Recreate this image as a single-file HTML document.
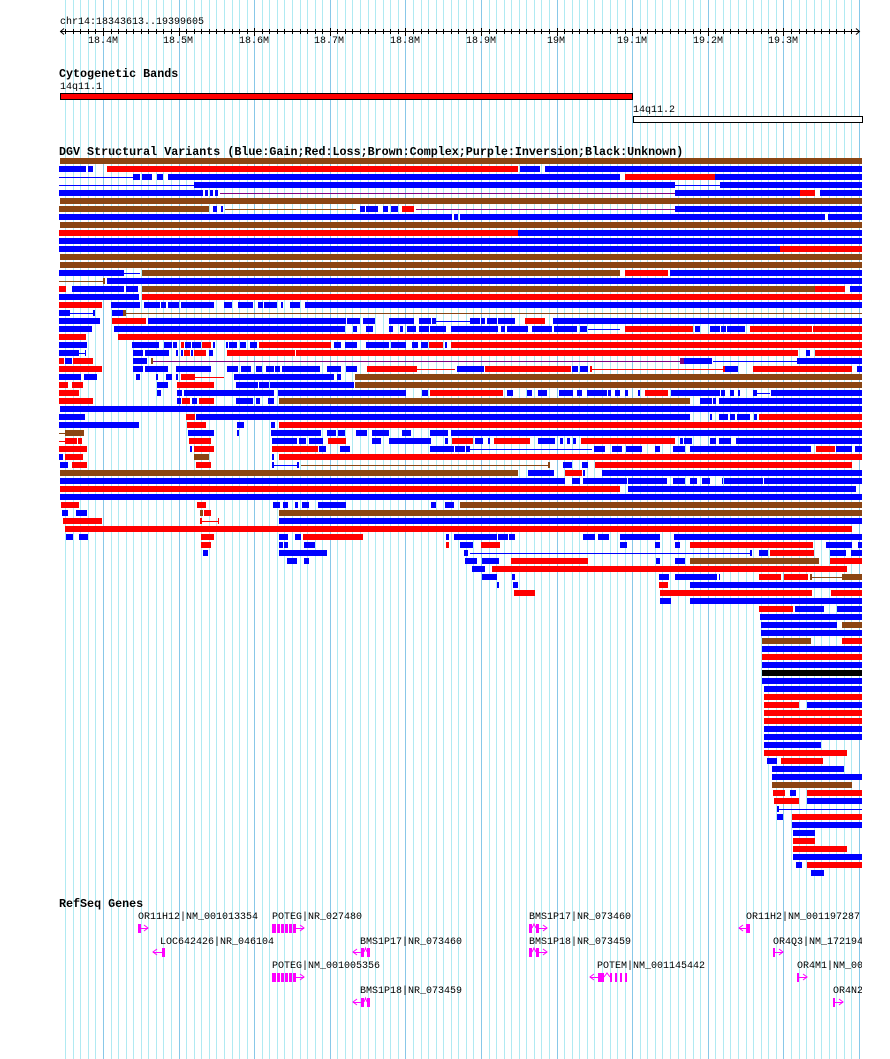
<!DOCTYPE html>
<html><head><meta charset="utf-8">
<style>
html,body{margin:0;padding:0;background:#fff;}
#c{position:relative;width:890px;height:1059px;overflow:hidden;background:#fff;}
.t{position:absolute;font-family:"Liberation Mono",monospace;font-size:10px;line-height:12px;color:#000;white-space:pre;margin-top:2px;}
.h{position:absolute;font-family:"Liberation Mono",monospace;font-size:11.7px;line-height:13px;font-weight:bold;color:#000;white-space:pre;margin-top:1px;}
svg{position:absolute;left:0;top:0;}
</style></head><body>
<div id="c">
<svg id="g" width="890" height="1059" xmlns="http://www.w3.org/2000/svg"></svg>
<div class="t" style="left:60px;top:15px;">chr14:18343613..19399605</div>
<div class="t" style="left:88px;top:34px;">18.4M</div>
<div class="t" style="left:163px;top:34px;">18.5M</div>
<div class="t" style="left:239px;top:34px;">18.6M</div>
<div class="t" style="left:314px;top:34px;">18.7M</div>
<div class="t" style="left:390px;top:34px;">18.8M</div>
<div class="t" style="left:466px;top:34px;">18.9M</div>
<div class="t" style="left:547px;top:34px;">19M</div>
<div class="t" style="left:617px;top:34px;">19.1M</div>
<div class="t" style="left:693px;top:34px;">19.2M</div>
<div class="t" style="left:768px;top:34px;">19.3M</div>
<div class="h" style="left:59px;top:67px;">Cytogenetic Bands</div>
<div class="t" style="left:60px;top:80px;">14q11.1</div>
<div class="t" style="left:633px;top:103px;">14q11.2</div>
<div class="h" style="left:59px;top:145px;">DGV Structural Variants (Blue:Gain;Red:Loss;Brown:Complex;Purple:Inversion;Black:Unknown)</div>
<div class="h" style="left:59px;top:897px;">RefSeq Genes</div>
<div style="position:absolute;left:0;top:0;width:862px;height:1059px;overflow:hidden;">
<div class="t" style="left:138px;top:910px;">OR11H12|NM_001013354</div>
<div class="t" style="left:272px;top:910px;">POTEG|NR_027480</div>
<div class="t" style="left:529px;top:910px;">BMS1P17|NR_073460</div>
<div class="t" style="left:746px;top:910px;">OR11H2|NM_001197287</div>
<div class="t" style="left:160px;top:935px;">LOC642426|NR_046104</div>
<div class="t" style="left:360px;top:935px;">BMS1P17|NR_073460</div>
<div class="t" style="left:529px;top:935px;">BMS1P18|NR_073459</div>
<div class="t" style="left:773px;top:935px;">OR4Q3|NM_172194</div>
<div class="t" style="left:272px;top:959px;">POTEG|NM_001005356</div>
<div class="t" style="left:597px;top:959px;">POTEM|NM_001145442</div>
<div class="t" style="left:797px;top:959px;">OR4M1|NM_001005</div>
<div class="t" style="left:360px;top:984px;">BMS1P18|NR_073459</div>
<div class="t" style="left:833px;top:984px;">OR4N2|NM_0</div>
</div>
</div>
<script>
(function(){
var g=document.getElementById("g"),out=[];
function R(x,y,w,h,c,extra){out.push('<rect x="'+x+'" y="'+y+'" width="'+w+'" height="'+h+'" fill="'+c+'"'+(extra||'')+'/>');}
function L(x1,y1,x2,y2,c){out.push('<line x1="'+x1+'" y1="'+y1+'" x2="'+x2+'" y2="'+y2+'" stroke="'+c+'" stroke-width="1"/>');}
for(var k=-6;k<=100;k++){var x=Math.round(103+k*7.56);if(x<60||x>862)continue;
 var major=(k%10===0);R(x,0,1,1059,major?"#88c8e8":"#b0eaf2");}
L(60,31.5,860,31.5,"#000");
out.push('<polyline points="64,28.5 60.5,31.5 64,34.5" fill="none" stroke="#000"/>');
out.push('<polyline points="856,28.5 859.5,31.5 856,34.5" fill="none" stroke="#000"/>');
for(var k=-5;k<=100;k++){var x=Math.round(103+k*7.56)+0.5;if(x<62||x>858)continue;
 if(k%10===0)L(x,28,x,36,"#000");else L(x,29,x,34,"#000");}
R(60.5,93.5,572,6,"#ff0000",' stroke="#000" stroke-width="1"');
R(633.5,116.5,229,6,"#fff",' stroke="#000" stroke-width="1"');
var C={b:"#0000ff",r:"#ff0000",n:"#8b4513",k:"#000000",p:"#800080"};
var rows=[
"n60-862",
"b59-86 b88-93 r107-518 b520-540 b545-862",
"lb59-133 b133-140 b142-152 b157-163 b168-620 r625-715 b715-862",
"lb59-194 b194-675 lb675-720 b720-862",
"b59-203 b205-208 b210-213 b215-218 lp220-675 b675-800 r800-815 b820-862",
"n60-862",
"n59-209 b213-217 b221-223 ln225-356 b360-365 b366-378 b383-388 b391-398 r402-414 lp416-675 b675-862",
"b59-452 b454-458 b460-825 b828-862",
"n60-862",
"r59-518 b518-862",
"b59-862",
"b59-780 r780-862",
"n60-862",
"n60-862",
"b59-124 lb124-140 n142-620 r625-668 b670-862",
"ln59-103 n103-105 b107-862",
"r59-66 b72-124 b126-138 n142-815 r815-845 b850-862",
"b59-139 r142-862",
"r59-102 b111-140 b144-160 b161-166 b168-179 b181-214 b224-232 b238-253 b258-263 b264-277 b281-283 b290-300 b305-862",
"b59-70 lb70-93 b93-95 b112-123 n123-126 ln126-862",
"b59-100 r112-146 b148-346 b347-360 b363-375 b389-414 b419-431 b432-436 lb436-470 b470-480 b481-485 b487-497 b498-515 r525-545 b553-862",
"b59-92 b114-345 b353-357 b366-373 b389-393 b400-403 b407-416 b419-429 b430-446 b451-498 b501-505 b507-528 b532-552 b554-577 b580-587 lb588-620 r625-693 b695-700 b710-720 b721-726 b727-745 r750-812 r813-862",
"r59-86 r118-862",
"b59-87 b132-159 b164-172 b173-177 r181-184 b185-191 b192-201 r202-211 b213-215 b226-228 b229-237 b240-246 b250-257 r259-331 b334-341 b345-357 b366-389 b391-406 b412-418 b421-428 r429-443 b445-447 r451-862",
"b59-79 lb79-85 b85-86 b133-143 b145-169 b176-178 b181-183 r184-190 b191-193 r194-206 b209-213 r227-295 r296-798 b806-810 r815-862",
"r59-64 b65-72 r73-93 b133-147 n151-153 lp153-680 p680-684 b684-712 lb713-797 b797-862",
"r59-102 b133-143 b145-168 b176-211 b227-238 b241-251 b256-262 b266-274 b275-280 b282-320 b327-341 b346-357 r367-417 lr417-455 b457-484 r485-571 b572-578 b580-588 r590-592 lr592-723 r723-725 b725-738 r753-852 b857-862",
"b59-81 b84-97 b136-140 b156-158 b166-172 b176-178 r181-195 lr195-224 b234-334 b337-341 n355-862",
"r59-68 r72-83 b157-168 r177-214 b236-258 b259-269 b270-354 n355-862",
"r59-79 b157-161 b177-182 b184-274 b278-406 b422-428 r430-503 b507-513 b527-532 b538-547 b559-573 b577-582 b587-607 b608-611 b615-620 b625-628 b638-640 r645-668 b671-720 b721-725 b730-734 b738-740 b753-757 lb757-770 b771-862",
"r59-93 b177-181 r182-190 b192-197 r199-214 b236-253 b256-260 b268-274 n279-690 b700-712 b713-716 b719-862",
"b60-862",
"b59-85 r186-195 b196-690 b710-712 b719-728 b730-735 b737-750 b754-757 r759-862",
"b59-139 r187-206 b237-244 b271-275 r279-862",
"ln59-65 n65-84 b188-214 b237-239 b271-321 b327-336 b338-345 b356-367 b372-389 b402-411 b430-448 b451-862",
"lr59-65 r65-77 r78-82 r189-211 b272-297 b299-306 b309-323 r328-346 b372-381 b389-431 b445-448 r452-473 b475-483 b488-490 r494-530 b538-555 b560-563 b567-570 b573-576 r581-675 b680-683 b684-692 b710-716 b719-731 b736-862",
"r59-87 b190-192 r194-214 r272-318 b319-326 b340-350 b430-454 b455-465 b466-470 lb470-592 b594-605 b612-622 b626-642 b655-660 b673-685 b690-811 r816-835 b836-852 b855-862",
"b59-63 r65-83 n194-209 b272-274 r279-862",
"b60-68 r72-87 r196-211 b272-274 lb274-297 b297-299 ln301-548 n548-550 b563-572 b582-588 r595-852",
"n60-518 b528-554 r565-582 b583-585 b602-620 b619-862",
"b60-565 b572-580 b583-627 b628-667 b673-685 b690-697 b702-710 b722-723 b724-763 b764-862",
"r60-620 b628-856",
"b60-862",
"r61-79 r197-206 b273-280 b283-288 b295-298 b302-309 b318-346 b431-436 b445-454 n460-862",
"b62-68 b76-87 n200-203 r204-211 n279-862",
"r63-102 r200-202 lr202-218 r218-219 b279-862",
"r65-852",
"b66-73 b79-88 r201-214 b279-288 b295-301 r303-363 b446-449 b454-497 b498-508 b509-515 b583-595 b598-609 b620-660 b674-862",
"r201-211 b279-283 b284-288 b304-315 r446-449 b460-473 r481-500 b620-627 b655-660 b675-680 r690-813 b826-852 b858-862",
"b203-208 b279-327 b464-468 lb470-750 b750-752 b759-768 r770-814 b830-846 b851-862",
"b287-297 b304-309 b465-477 b482-499 r511-588 b656-660 b675-685 n690-819 r830-862",
"b472-485 r492-847",
"b482-497 b512-515 b659-669 b675-717 b719-720 r759-781 r784-808 n810-812 ln812-842 n842-862",
"b497-499 b513-518 r659-668 b690-862",
"r514-535 r660-812 r831-862",
"b660-671 b690-862",
"r759-793 b795-824 b837-862",
"b760-862",
"b761-837 n842-862",
"b761-862",
"n762-811 r842-862",
"b762-862",
"r762-862",
"b762-862",
"k762-862",
"b762-862",
"b764-862",
"r764-862",
"r764-799 b807-862",
"r764-862",
"r764-862",
"b764-862",
"b764-862",
"b764-821",
"r764-847",
"b767-777 r781-823",
"b772-844",
"b772-862",
"n772-852",
"r773-785 b790-796 r807-862",
"r774-799 b807-862",
"b777-779 lb779-862",
"b777-783 r792-862",
"b792-862",
"b793-815",
"r793-815",
"r793-847",
"b793-862",
"b796-802 r807-862",
"b811-824"
];
for(var i=0;i<rows.length;i++){
 var y=158+8*i,toks=rows[i].split(" ");
 for(var j=0;j<toks.length;j++){
  var t=toks[j],line=false;
  if(t[0]==="l"){line=true;t=t.slice(1);}
  var c=C[t[0]],a=t.slice(1).split("-"),x1=+a[0],x2=+a[1];
  if(line)R(x1,y+3,x2-x1,1,c);else R(x1,y,x2-x1,6,c);
 }
}
var M="#ff00ff";
function arrR(x,c){out.push('<polyline points="'+(x-4)+','+(c-3)+' '+x+','+c+' '+(x-4)+','+(c+3)+'" fill="none" stroke="'+M+'"/>');}
function arrL(x,c){out.push('<polyline points="'+(x+4)+','+(c-3)+' '+x+','+c+' '+(x+4)+','+(c+3)+'" fill="none" stroke="'+M+'"/>');}
function ex(x1,x2,c){R(x1,c-4,x2-x1,9,M);}
function ln(x1,x2,c){R(x1,c,x2-x1,1,M);}
function chev(x1,x2,c){var m=(x1+x2)/2;out.push('<polyline points="'+x1+','+c+' '+m+','+(c-4)+' '+x2+','+c+'" fill="none" stroke="'+M+'"/>');}
ex(138,141,928);ln(141,148,928);arrR(148,928);
[928,977].forEach(function(c){ex(272,276,c);ex(277,280,c);ex(281,284,c);ex(285,288,c);ex(289,292,c);ex(293,296,c);ln(296,304,c);arrR(304,c);});
arrL(153,952);ln(153,162,952);ex(162,165,952);
[952,1002].forEach(function(c){arrL(353,c);ln(353,361,c);ex(361,364,c);chev(364,367,c);ex(367,370,c);});
[928,952].forEach(function(c){ex(529,532,c);chev(532,536,c);ex(536,539,c);ln(539,547,c);arrR(547,c);});
arrL(590,977);ln(590,598,977);ex(598,604,977);chev(604,610,977);ex(610,612,977);ex(615,617,977);ex(620,622,977);ex(625,627,977);
arrL(739,928);ln(739,746,928);ex(746,750,928);
ex(773,775,952);ln(775,783,952);arrR(783,952);
ex(797,799,977);ln(799,807,977);arrR(807,977);
ex(833,835,1002);ln(835,843,1002);arrR(843,1002);
g.innerHTML=out.join("");
})();
</script>
</body></html>
